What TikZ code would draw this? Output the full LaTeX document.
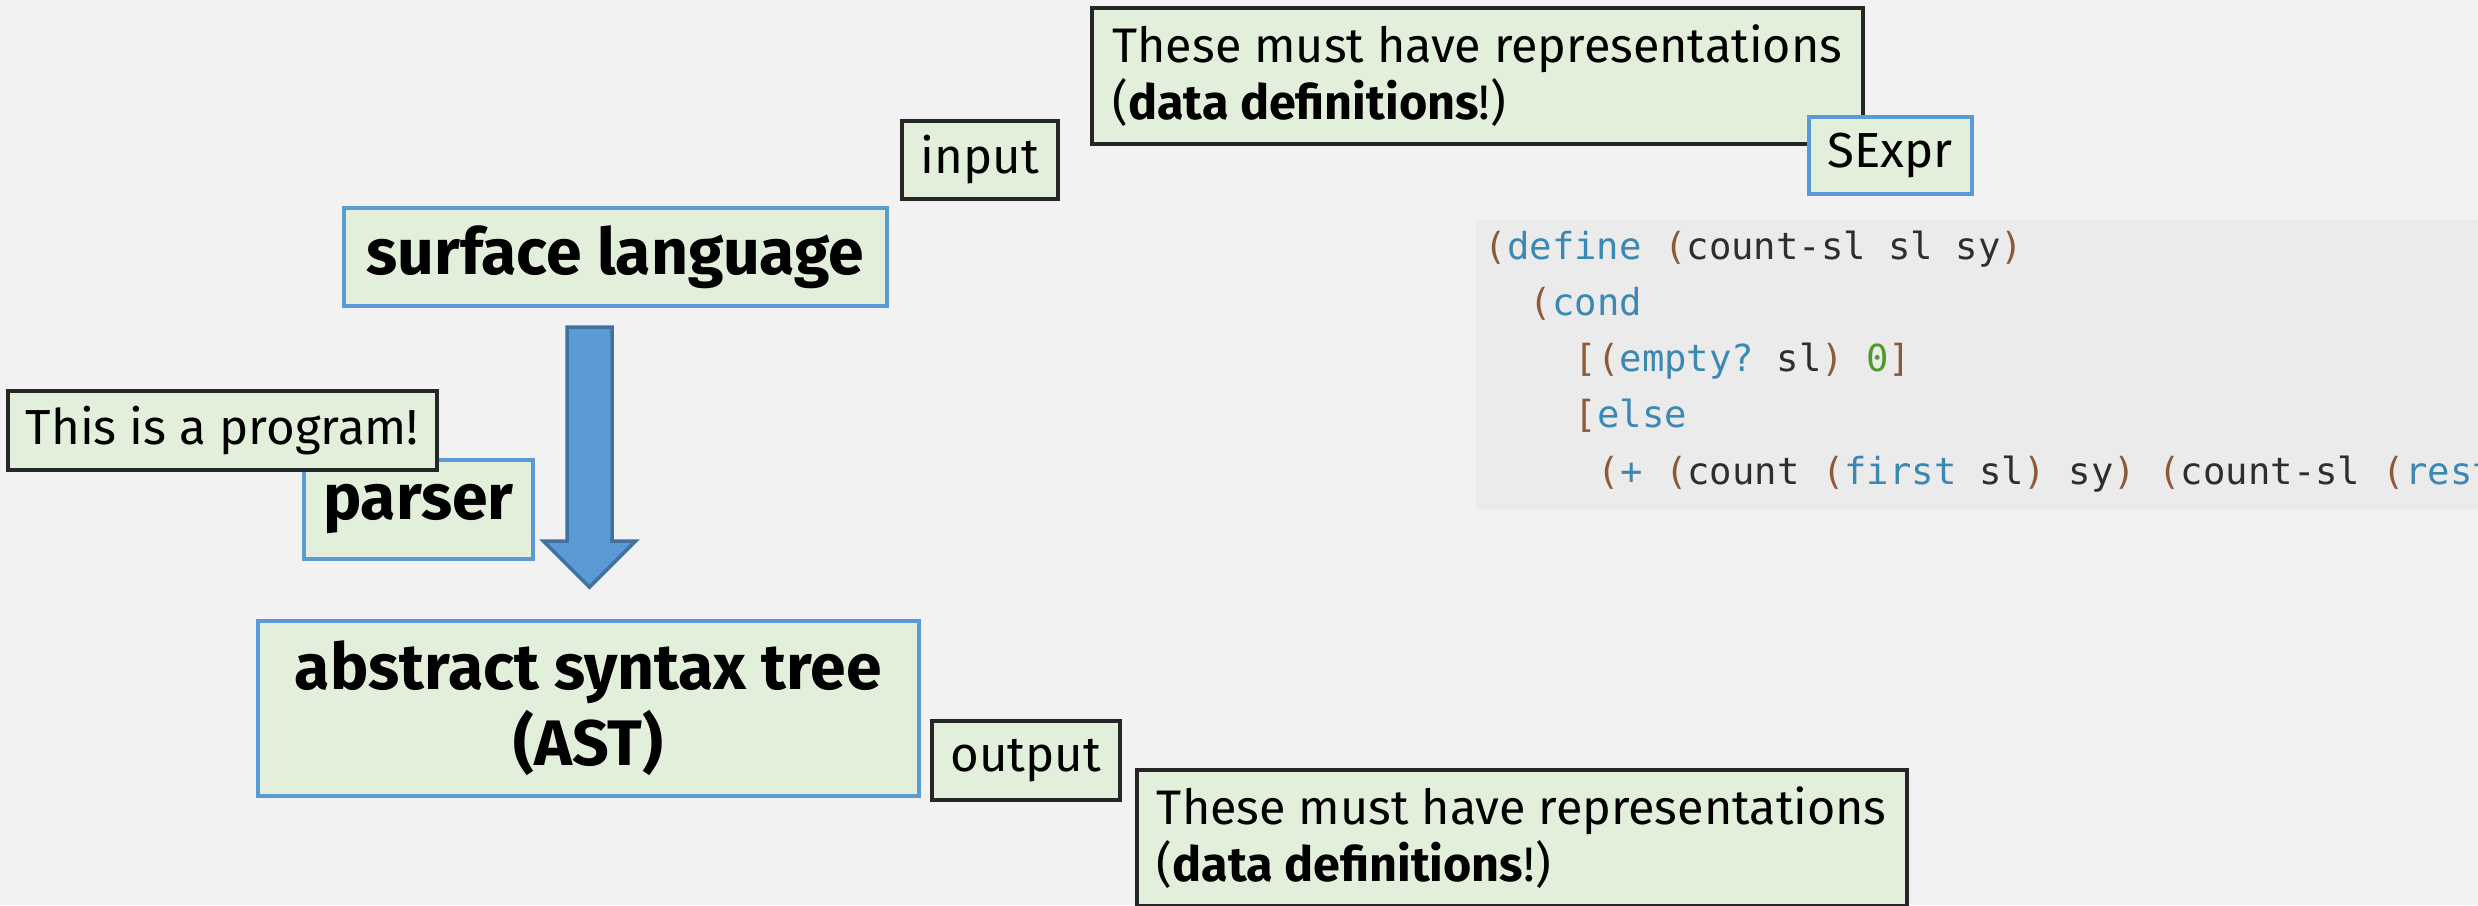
\documentclass[tikz,border=0pt]{standalone}
\usepackage{fontspec}
\setmainfont{Fira Sans}
\setmonofont{DejaVu Sans Mono}
\usetikzlibrary{positioning, calc}
\definecolor{bgcol}{HTML}{F2F2F2}
\definecolor{codebgcol}{HTML}{EBEBEB}
\definecolor{boxfill}{HTML}{E2EFDA}
\definecolor{blueline}{HTML}{5B9BD5}
\definecolor{darkline}{HTML}{262626}
\definecolor{arrowfill}{HTML}{5B9BD5}
\definecolor{arrowline}{HTML}{41719C}
\definecolor{kwblue}{HTML}{3A89B4}
\definecolor{parbrown}{HTML}{8C5A37}
\definecolor{numgreen}{HTML}{4E9A2E}
\definecolor{idcol}{HTML}{2E2E2E}
\tikzset{
box/.style={fill=boxfill, line width=1pt, inner sep=0pt, anchor=north west}, % common look of the boxes
bluebox/.style={box, draw=blueline}, % boxes of the pipeline
darkbox/.style={box, draw=darkline}, % boxes of the remarks
big/.style={font=\fontsize{18.3}{21.6}\selectfont\bfseries},
small/.style={font=\fontsize{14}{16.2}\selectfont},
note/.style={font=\fontsize{13.8}{16.2}\selectfont},
codeline/.style={font=\fontsize{10.6}{12}\selectfont\ttfamily, anchor=base west, inner sep=0pt, text=idcol},
blockarrow/.style={fill=arrowfill, draw=arrowline, line width=1pt}, % the fat arrow
}
\newcommand{\kw}[1]{\textcolor{kwblue}{#1}}
\newcommand{\pn}[1]{\textcolor{parbrown}{#1}}

\begin{document}
\begin{tikzpicture}
                \useasboundingbox (0,0) rectangle (24.78,-9.05);
                \fill[bgcol] (0,0) rectangle (24.78,-9.05);
                % boxes at the top
                \node[darkbox, note, minimum width=7.71cm, minimum height=1.36cm, align=left] (datain) at (10.90,-0.06)
                    {These must have representations\\(\textbf{data definitions}!)};
                \node[bluebox, small, minimum width=1.63cm, minimum height=0.77cm] (sexpr) at (18.07,-1.15) {SExpr};
                \node[darkbox, small, minimum width=1.56cm, minimum height=0.78cm] (input) at (9.00,-1.19) {input};
                % the pipeline
                \node[bluebox, big, minimum width=5.43cm, minimum height=0.98cm] (sl) at (3.42,-2.06) {surface language};
                \node[bluebox, big, minimum width=2.29cm, minimum height=0.99cm] (parser) at (3.02,-4.58) {parser};
                \node[darkbox, small, minimum width=4.29cm, minimum height=0.79cm] (prog) at (0.06,-3.89) {This is a program!};
                \node[bluebox, big, minimum width=6.61cm, minimum height=1.75cm, align=center] (ast) at (2.56,-6.19)
                    {abstract syntax tree\\(AST)};
                \node[darkbox, small, minimum width=1.88cm, minimum height=0.79cm] (output) at (9.30,-7.19) {output};
                \node[darkbox, note, minimum width=7.70cm, minimum height=1.36cm, align=left] (dataout) at (11.35,-7.68)
                    {These must have representations\\(\textbf{data definitions}!)};
                % arrow from sl to ast
                \coordinate (atop) at (5.895,-3.27);
                \coordinate (atip) at (5.895,-5.87);
                \draw[blockarrow] ($(atop)+(-0.225,0)$) -- ($(atop)+(0.225,0)$) -- ($(atip)+(0.225,0.46)$)
                    -- ($(atip)+(0.46,0.46)$) -- (atip) -- ($(atip)+(-0.46,0.46)$) -- ($(atip)+(-0.225,0.46)$) -- cycle;
                % code
                \node[fill=codebgcol, anchor=north west, minimum width=10.03cm, minimum height=2.90cm, inner sep=0pt] (codeblk) at (14.75,-2.19) {};
                \begin{scope}
                \clip (codeblk.south west) rectangle (codeblk.north east);
                \node[codeline] (c1) at (14.84,-2.59) {\pn{(}\kw{define} \pn{(}count-sl sl sy\pn{)}};
                \node[codeline] (c2) at (15.29,-3.15) {\pn{(}\kw{cond}};
                \node[codeline] (c3) at (15.74,-3.71) {\pn{[(}\kw{empty?} sl\pn{)} \textcolor{numgreen}{0}\pn{]}};
                \node[codeline] (c4) at (15.74,-4.27) {\pn{[}\kw{else}};
                \node[codeline] (c5) at (15.97,-4.84) {\pn{(}\kw{+} \pn{(}count \pn{(}\kw{first} sl\pn{)} sy\pn{)} \pn{(}count-sl \pn{(}\kw{rest}};
                \end{scope}
\end{tikzpicture}
\end{document}
